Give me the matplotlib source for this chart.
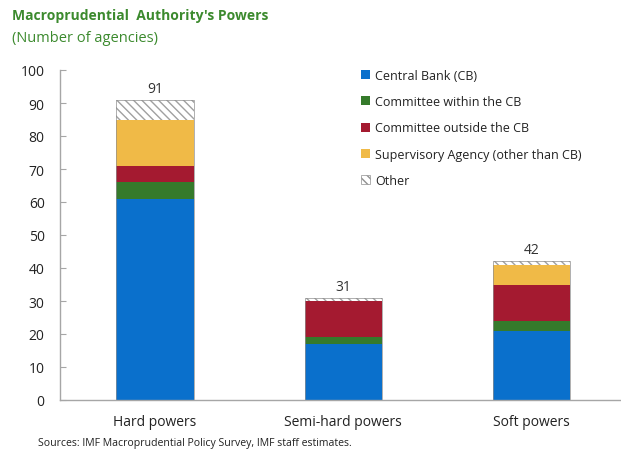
import matplotlib
matplotlib.use("Agg")
import matplotlib.pyplot as plt
from matplotlib.patches import Patch
import numpy as np

plt.rcParams['font.family'] = ['Open Sans', 'DejaVu Sans']

categories = ["Hard powers", "Semi-hard powers", "Soft powers"]
series_names = ["Central Bank (CB)", "Committee within the CB", "Committee outside the CB",
                "Supervisory Agency (other than CB)", "Other"]
central_bank = [61, 17, 21]
committee_within = [5, 2, 3]
committee_outside = [5, 11, 11]
supervisory = [14, 0, 6]
other = [6, 1, 1]
totals = [91, 31, 42]

colors = ["#0A70CC", "#357A2B", "#A41A30", "#F0BA47", "white"]

W, H = 621, 452
fig = plt.figure(figsize=(W/100, H/100), dpi=100)
ax = fig.add_axes([60/W, (H-401)/H, (620-60)/W, 330/H])

x = np.arange(len(categories))
bottom = np.zeros(len(categories))
series = [central_bank, committee_within, committee_outside, supervisory, other]
width = 0.41
for i, (vals, c) in enumerate(zip(series, colors)):
    if i == 4:
        ax.bar(x, vals, width, bottom=bottom, color="white", edgecolor="#A0A0A0",
               hatch="\\\\\\\\", linewidth=0)
    else:
        ax.bar(x, vals, width, bottom=bottom, color=c, edgecolor="none")
    bottom += np.array(vals)
ax.bar(x, bottom, width, fill=False, edgecolor="#909090", linewidth=0.5)

for xi, t in zip(x, totals):
    ax.text(xi, t + 1.2, str(t), ha="center", va="bottom", fontsize=10, color="#333333")

ax.set_xlim(-0.505, 2.47)
ax.set_ylim(0, 100)
ax.set_yticks(range(0, 101, 10))
ax.set_xticks(x)
ax.set_xticklabels(categories)
for s in ["top", "right"]:
    ax.spines[s].set_visible(False)
for s in ["left", "bottom"]:
    ax.spines[s].set_color("#A6A6A6")
    ax.spines[s].set_linewidth(1.0)
ax.tick_params(axis="y", direction="in", length=4, color="#A6A6A6", labelsize=10,
               labelcolor="#222222", pad=11)
ax.tick_params(axis="x", length=0, labelsize=10, labelcolor="#222222", pad=10)

handles = [Patch(facecolor=c, edgecolor="none") for c in colors[:4]]
handles.append(Patch(facecolor="white", edgecolor="#909090", hatch="\\\\\\\\", linewidth=0.5))
leg = ax.legend(handles, series_names, loc="upper left", bbox_to_anchor=(361/W, 1 - 70/H),
                bbox_transform=fig.transFigure, frameon=False, fontsize=9,
                handlelength=0.75, handleheight=0.75, handletextpad=0.4,
                labelspacing=1.06, borderaxespad=0, borderpad=0)
for t in leg.get_texts():
    t.set_color("#222222")

fig.text(12/W, 1 - 16/H, "Macroprudential  Authority's Powers", fontsize=10, fontweight="bold",
         color="#3C8A2E", va="center", ha="left")
fig.text(12/W, 1 - 38/H, "(Number of agencies)", fontsize=10.5, color="#3C8A2E",
         va="center", ha="left")
fig.text(38/W, 1 - 444/H, "Sources: IMF Macroprudential Policy Survey, IMF staff estimates.",
         fontsize=7.6, color="#222222", va="center", ha="left")

fig.savefig("out.png", dpi=100)
